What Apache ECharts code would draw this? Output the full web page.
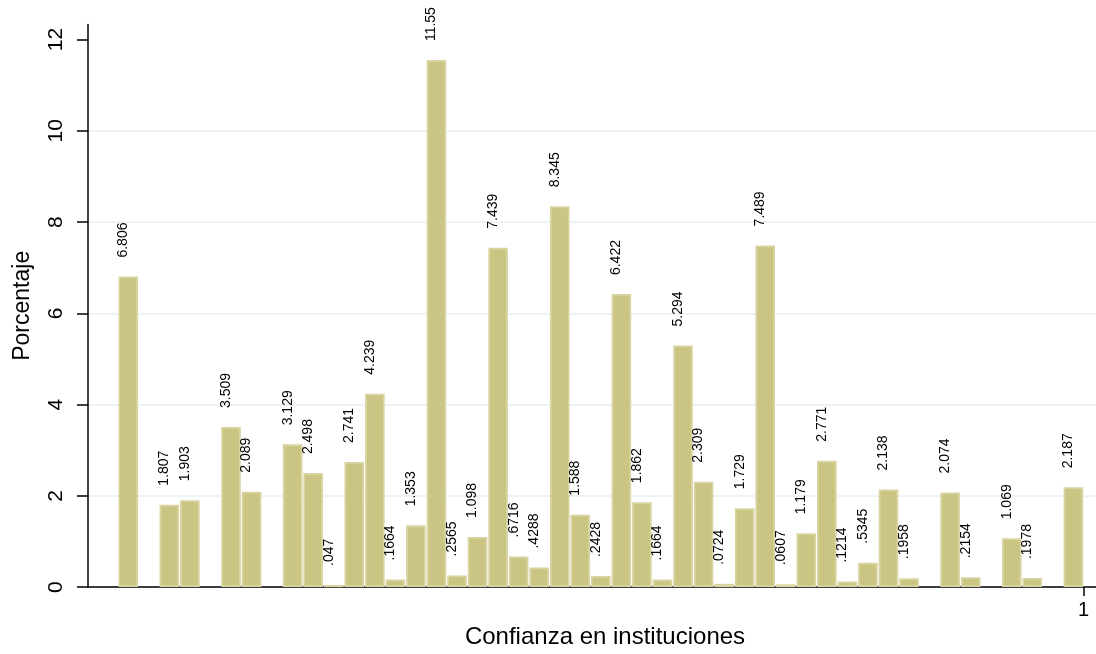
<!DOCTYPE html>
<html>
<head>
<meta charset="utf-8">
<script src="https://cdn.jsdelivr.net/npm/echarts@6/dist/echarts.min.js"></script>
<style>
html,body{margin:0;padding:0;background:#fff;}
#chart{width:1096px;height:654px;}
</style>
</head>
<body>
<div id="chart"></div>
<script>
// Bin positions (slot index along the x axis) and bar heights (percent)
var binPositions = [0,2,3,5,6,8,9,10,11,12,13,14,15,16,17,18,19,20,21,22,23,24,25,26,27,28,29,30,31,32,33,34,35,36,37,38,40,41,43,44,46];
var percentages = [6.806,1.807,1.903,3.509,2.089,3.129,2.498,0.047,2.741,4.239,0.1664,1.353,11.55,0.2565,1.098,7.439,0.6716,0.4288,8.345,1.588,0.2428,6.422,1.862,0.1664,5.294,2.309,0.0724,1.729,7.489,0.0607,1.179,2.771,0.1214,0.5345,2.138,0.1958,2.074,0.2154,1.069,0.1978,2.187];
var xTickValues = [46.5];
var xTickLabels = ['1'];
var yTickValues = [0,2,4,6,8,10,12];
var xTitle = 'Confianza en instituciones';
var yTitle = 'Porcentaje';

var data = binPositions.map(function(p, i){ return [p, percentages[i]]; });
function fmt(v){ return String(v).replace(/^0\./, '.'); }

var chart = echarts.init(document.getElementById('chart'));
var font = 'Liberation Sans, Arial, Helvetica, sans-serif';
chart.setOption({
  animation: false,
  backgroundColor: '#ffffff',
  grid: { left: 88, right: 0, top: 24.5, bottom: 60, containLabel: false },
  xAxis: {
    type: 'value',
    min: -1.96, max: 47.1,
    name: xTitle,
    nameLocation: 'middle',
    nameGap: 31,
    nameTextStyle: { fontFamily: font, fontSize: 24, color: '#000', padding: [0,0,0,26] },
    axisLine: { show: true, onZero: false, lineStyle: { color: '#000', width: 1.5 } },
    axisTick: { show: true, length: 9, lineStyle: { color: '#000', width: 1.5 }, customValues: xTickValues },
    axisLabel: {
      show: true, customValues: xTickValues, margin: 13,
      fontFamily: font, fontSize: 20, color: '#000',
      formatter: function(v){ var i = xTickValues.indexOf(v); return i >= 0 ? xTickLabels[i] : ''; }
    },
    splitLine: { show: false }
  },
  yAxis: {
    type: 'value',
    min: 0, max: 12.33, interval: 2,
    name: yTitle,
    nameLocation: 'middle',
    nameGap: 54,
    nameRotate: 90,
    nameTextStyle: { fontFamily: font, fontSize: 23, color: '#000' },
    axisLine: { show: true, onZero: false, lineStyle: { color: '#000', width: 1.5 } },
    axisTick: { show: true, length: 11, lineStyle: { color: '#000', width: 1.5 }, customValues: yTickValues },
    axisLabel: {
      show: true, customValues: yTickValues, rotate: 90, margin: 21,
      fontFamily: font, fontSize: 21, color: '#000'
    },
    splitLine: { show: true, showMaxLine: false, lineStyle: { color: '#E6EFF2', width: 1.5 } }
  },
  series: [{
    type: 'bar',
    data: data,
    barWidth: 19.6,
    itemStyle: { color: '#CBC583', borderColor: '#D9D4A2', borderWidth: 1.8 },
    label: {
      show: true,
      position: 'top',
      distance: 19,
      rotate: 90,
      align: 'left',
      verticalAlign: 'middle',
      offset: [0, -5],
      fontFamily: font,
      fontSize: 14,
      color: '#000',
      formatter: function(p){ return fmt(p.value[1]); }
    }
  }]
});
</script>
</body>
</html>
